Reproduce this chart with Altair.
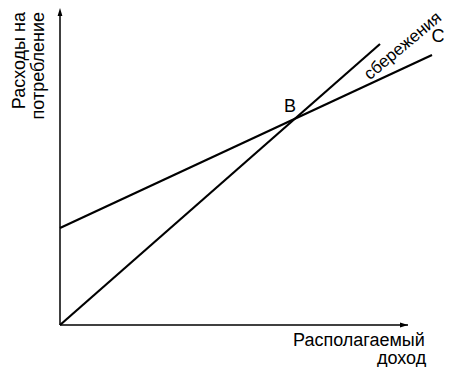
import altair as alt
import pandas as pd

# --- data (units: offsets from the origin of the axes) ---
line_series = ["savings", "savings", "C", "C"]
line_x = [0, 320, 0, 372]
line_y = [0, 281, 97, 270]

axis_series = ["y", "y", "x", "x"]
axis_x = [0, 0, 0, 348]
axis_y = [0, 313, 0, 0]

point_labels = ["B", "C"]
point_label_x = [230, 378]
point_label_y = [218, 288]

savings_text = ["сбережения"]
savings_x = [343]
savings_y = [279]

ylab_text = ["Расходы на", "потребление"]
ylab_x = [-40, -21]
ylab_y = [313, 313]

xlab_text = ["Располагаемый", "доход"]
xlab_x = [233, 317]
xlab_y = [-21, -39]

FONT = "Liberation Sans"

lines_df = pd.DataFrame({"series": line_series, "x": line_x, "y": line_y})
axes_df = pd.DataFrame({"series": axis_series, "x": axis_x, "y": axis_y})
yarrow_df = pd.DataFrame({"x": [0], "y": [313]})
xarrow_df = pd.DataFrame({"x": [344], "y": [0]})
plab_df = pd.DataFrame({"t": point_labels, "x": point_label_x, "y": point_label_y})
sav_df = pd.DataFrame({"t": savings_text, "x": savings_x, "y": savings_y})
ylab_df = pd.DataFrame({"t": ylab_text, "x": ylab_x, "y": ylab_y})
xlab_df = pd.DataFrame({"t": xlab_text, "x": xlab_x, "y": xlab_y})

X = alt.X("x:Q", scale=alt.Scale(domain=[0, 384], nice=False, zero=False), axis=None)
Y = alt.Y("y:Q", scale=alt.Scale(domain=[0, 317], nice=False, zero=False), axis=None)

axes = alt.Chart(axes_df).mark_line(color="black", strokeWidth=1.5).encode(
    x=X, y=Y, detail="series:N"
)
yarrow = alt.Chart(yarrow_df).mark_point(
    shape="M0,-1L-0.6,1L0.6,1Z", size=64, filled=True, color="black", opacity=1
).encode(x=X, y=Y)
xarrow = alt.Chart(xarrow_df).mark_point(
    shape="M1,0L-1,-0.6L-1,0.6Z", size=64, filled=True, color="black", opacity=1
).encode(x=X, y=Y)

lines = alt.Chart(lines_df).mark_line(color="black", strokeWidth=2.2).encode(
    x=X, y=Y, detail="series:N"
)

plab = alt.Chart(plab_df).mark_text(
    font=FONT, fontSize=18, color="black", align="center", baseline="middle"
).encode(x=X, y=Y, text="t:N")

sav = alt.Chart(sav_df).mark_text(
    font=FONT, fontSize=17, color="black", align="center", baseline="middle", angle=320
).encode(x=X, y=Y, text="t:N")

ylab = alt.Chart(ylab_df).mark_text(
    font=FONT, fontSize=18, color="black", align="right", baseline="middle", angle=270
).encode(x=X, y=Y, text="t:N")

xlab = alt.Chart(xlab_df).mark_text(
    font=FONT, fontSize=18, color="black", align="left", baseline="alphabetic"
).encode(x=X, y=Y, text="t:N")

chart = alt.layer(axes, yarrow, xarrow, lines, plab, sav, ylab, xlab).properties(
    width=384,
    height=317,
    autosize="none",
    padding={"left": 52, "top": 0, "right": 0, "bottom": 42},
    background="white",
).configure_view(stroke=None)

chart.save("out.html", embed_options={"renderer": "svg", "actions": False})
